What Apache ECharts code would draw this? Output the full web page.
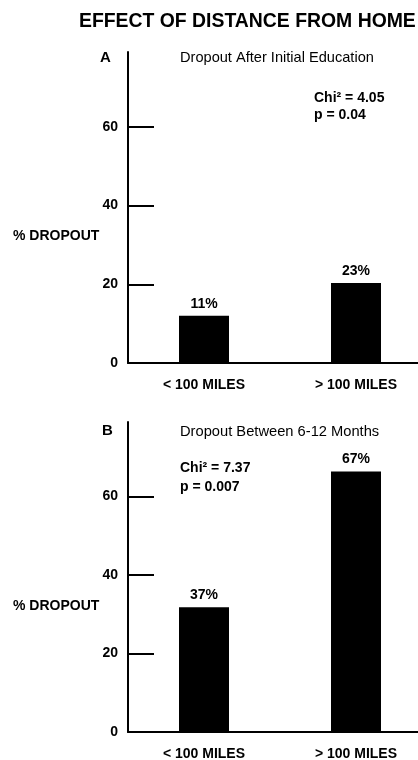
<!DOCTYPE html>
<html>
<head>
<meta charset="utf-8">
<script src="https://cdn.jsdelivr.net/npm/echarts@6/dist/echarts.min.js"></script>
<style>
html,body{margin:0;padding:0;background:#fff;}
#chart{width:418px;height:760px;}
</style>
</head>
<body>
<div id="chart"></div>
<script>
const categories = ['< 100 MILES', '> 100 MILES'];
const dropoutA = [12, 20.3];
const dropoutB = [31.8, 66.4];
const labelsA = ['11%', '23%'];
const labelsB = ['37%', '67%'];
const yTicks = [0, 20, 40, 60];
const yMax = 79;

const FONT = '"Liberation Sans", Arial, Helvetica, sans-serif';
const chart = echarts.init(document.getElementById('chart'), null, {renderer: 'canvas'});

function xAxis(gi) {
  return {
    type: 'category', gridIndex: gi, data: categories,
    axisLine: {lineStyle: {color: '#000', width: 2}},
    axisTick: {show: false},
    axisLabel: {color: '#000', fontFamily: FONT, fontWeight: 'bold', fontSize: 14, margin: 15}
  };
}
function yAxis(gi) {
  return {
    type: 'value', gridIndex: gi, min: 0, max: yMax,
    splitLine: {show: false},
    axisLine: {show: true, lineStyle: {color: '#000', width: 2}},
    axisTick: {show: true, inside: true, length: 26, customValues: yTicks, lineStyle: {color: '#000', width: 2}},
    axisLabel: {color: '#000', fontFamily: FONT, fontWeight: 'bold', fontSize: 14, margin: 10, customValues: yTicks}
  };
}
function barSeries(gi, data, labels) {
  return {
    type: 'bar', xAxisIndex: gi, yAxisIndex: gi, data: data, barWidth: 50,
    itemStyle: {color: '#000'},
    label: {show: true, position: 'top', distance: 5, color: '#000', fontFamily: FONT,
      fontWeight: 'bold', fontSize: 14, formatter: p => labels[p.dataIndex]}
  };
}
function txt(x, y, text, size, weight) {
  return {type: 'text', x: x, y: y, style: {text: text, fill: '#000', font: weight + ' ' + size + 'px ' + FONT, textVerticalAlign: 'middle', textAlign: 'left'}};
}

chart.setOption({
  animation: false,
  backgroundColor: '#fff',
  grid: [
    {left: 128, width: 304, top: 52, height: 311, containLabel: false, outerBoundsMode: 'none'},
    {left: 128, width: 304, top: 422, height: 310, containLabel: false, outerBoundsMode: 'none'}
  ],
  xAxis: [xAxis(0), xAxis(1)],
  yAxis: [yAxis(0), yAxis(1)],
  series: [barSeries(0, dropoutA, labelsA), barSeries(1, dropoutB, labelsB)],
  graphic: [
    txt(79, 22, 'EFFECT OF DISTANCE FROM HOME', 19.4, 'bold'),
    txt(100, 58, 'A', 15, 'bold'),
    txt(180, 58, 'Dropout After Initial Education', 14.6, 'normal'),
    txt(314, 98, 'Chi\u00B2 = 4.05', 14, 'bold'),
    txt(314, 115, 'p = 0.04', 14, 'bold'),
    txt(13, 236, '% DROPOUT', 14, 'bold'),
    txt(102, 431, 'B', 15, 'bold'),
    txt(180, 432, 'Dropout Between 6-12 Months', 14.7, 'normal'),
    txt(180, 468, 'Chi\u00B2 = 7.37', 14, 'bold'),
    txt(180, 487, 'p = 0.007', 14, 'bold'),
    txt(13, 606, '% DROPOUT', 14, 'bold')
  ]
});
</script>
</body>
</html>
